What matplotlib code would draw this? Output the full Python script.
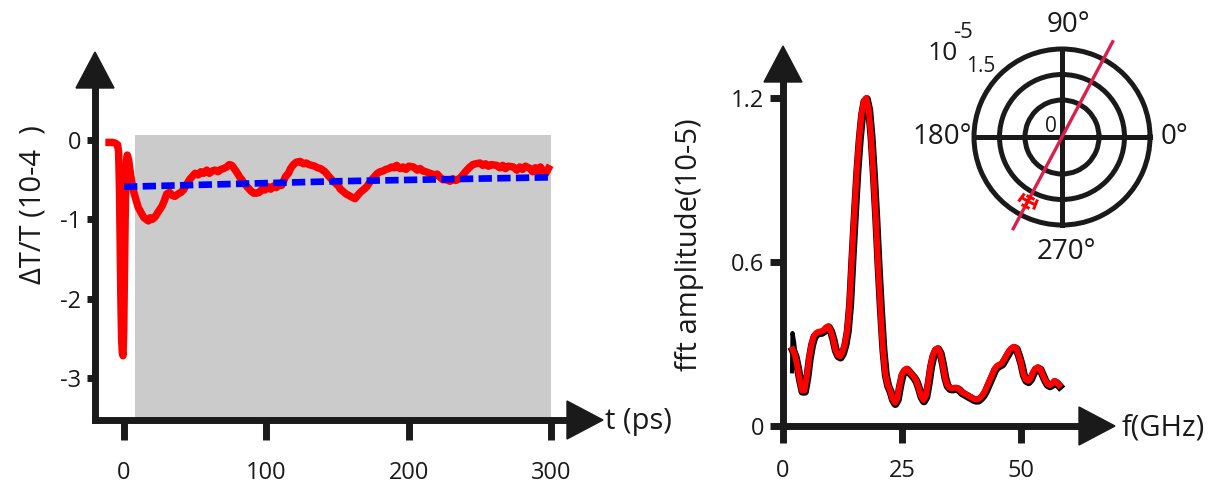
import numpy as np
import matplotlib
matplotlib.use("Agg")
import matplotlib.pyplot as plt
from matplotlib.patches import Polygon, Rectangle
from matplotlib import transforms

# ---------------- data ----------------
# pump-probe transient, time in ps, dT/T in units of 1e-4
TIME = [-10.5, -8, -6, -4.5, -3.8, -3.2, -2.7, -2.2, -1.7, -1.2, -0.7, -0.2, 0.3, 0.8, 1.3, 1.8, 2.3,
        3.2, 4.5, 6, 7.7, 10, 12.4, 14, 15.5, 17.1, 18.5, 20, 21.8, 23.5, 25, 26.5, 28, 30, 32, 34,
        35.8, 38, 40, 41.7, 44, 46, 48, 49.9, 52, 54, 56, 58.1, 60, 62, 64, 66, 68, 70, 72, 74, 75.7,
        77, 79, 81, 82.7, 85, 87, 89, 91, 93.2, 95, 97, 99, 101.4, 103, 105, 107, 108.8, 110.8, 112,
        113.5, 115.5, 117, 119, 121, 123.7, 126, 128, 130, 131.9, 134, 136, 138, 141.2, 143, 145, 147,
        150.6, 152, 154, 156, 158, 160, 162.3, 164, 166, 168, 170.5, 172, 174, 176, 178, 179.9, 182,
        184, 186, 188, 190, 191.6, 194, 196, 198, 200, 203.3, 206, 208, 210, 212, 215, 218, 220, 222,
        224, 226.7, 229, 231, 233, 236.1, 238, 240.8, 243, 245, 247, 250.1, 252, 254, 256, 258, 261.9,
        264, 266, 268, 270, 273.5, 276, 278, 280, 282, 285.3, 287, 289, 291, 292.5, 294.6, 296, 298.1]
DTT = [-0.03, -0.03, -0.04, -0.06, -0.15, -0.6, -1.3, -2.0, -2.5, -2.68, -2.72, -2.4, -1.7, -1.0, -0.5, -0.25, -0.19,
       -0.25, -0.42, -0.6, -0.71, -0.85, -0.93, -0.98, -1.0, -1.02, -0.98, -1.0, -0.97, -0.92, -0.88, -0.84, -0.78,
       -0.68, -0.66, -0.70, -0.71, -0.68, -0.66, -0.63, -0.56, -0.50, -0.46, -0.42, -0.44, -0.40, -0.42, -0.38,
       -0.42, -0.39, -0.38, -0.40, -0.37, -0.36, -0.34, -0.31, -0.32, -0.35, -0.40, -0.46, -0.50, -0.56, -0.60,
       -0.64, -0.67, -0.67, -0.66, -0.62, -0.63, -0.59, -0.62, -0.58, -0.60, -0.57, -0.57, -0.52, -0.46, -0.42,
       -0.36, -0.31, -0.28, -0.27, -0.30, -0.29, -0.31, -0.32, -0.33, -0.35, -0.36, -0.40, -0.44, -0.48, -0.52,
       -0.58, -0.62, -0.65, -0.68, -0.70, -0.72, -0.74, -0.70, -0.66, -0.63, -0.59, -0.55, -0.50, -0.46, -0.42,
       -0.40, -0.39, -0.37, -0.36, -0.34, -0.35, -0.32, -0.36, -0.34, -0.37, -0.33, -0.34, -0.38, -0.36, -0.39,
       -0.40, -0.42, -0.44, -0.43, -0.47, -0.50, -0.50, -0.52, -0.49, -0.51, -0.48, -0.44, -0.38, -0.34, -0.31,
       -0.30, -0.29, -0.32, -0.30, -0.33, -0.31, -0.32, -0.35, -0.32, -0.36, -0.33, -0.34, -0.38, -0.34, -0.37,
       -0.33, -0.36, -0.40, -0.35, -0.39, -0.34, -0.40, -0.43, -0.36]

# background fit (dashed)
FIT_T = [0, 150, 300]
FIT_V = [-0.59, -0.52, -0.47]

# shaded window used for the FFT (ps)
WINDOW_T = (7.7, 300)
WINDOW_TOP = 0.06

T_TICKS = [0, 100, 200, 300]
DTT_TICKS = [0, -1, -2, -3]

# FFT spectrum, frequency in GHz, amplitude in units of 1e-5
FREQ = np.arange(2.0, 58.01, 0.5)
FFT_AMP = [0.28, 0.26, 0.22, 0.17, 0.13, 0.13, 0.18, 0.25, 0.30, 0.33,
           0.34, 0.345, 0.345, 0.35, 0.36, 0.365, 0.35, 0.32, 0.28, 0.26,
           0.255, 0.27, 0.30, 0.35, 0.45, 0.62, 0.78, 0.93, 1.05, 1.14,
           1.19, 1.20, 1.16, 1.06, 0.92, 0.76, 0.58, 0.42, 0.28, 0.19,
           0.15, 0.13, 0.10, 0.085, 0.10, 0.15, 0.19, 0.205, 0.21, 0.20,
           0.19, 0.18, 0.165, 0.14, 0.11, 0.095, 0.11, 0.16, 0.22, 0.26,
           0.28, 0.285, 0.27, 0.23, 0.18, 0.15, 0.14, 0.138, 0.14, 0.14,
           0.135, 0.125, 0.12, 0.115, 0.11, 0.105, 0.10, 0.097, 0.098, 0.105,
           0.115, 0.13, 0.15, 0.17, 0.19, 0.21, 0.22, 0.225, 0.23, 0.245,
           0.26, 0.275, 0.285, 0.29, 0.285, 0.26, 0.23, 0.19, 0.17, 0.165,
           0.175, 0.195, 0.21, 0.215, 0.21, 0.19, 0.17, 0.155, 0.15, 0.155,
           0.165, 0.16, 0.15]
# start of the raw (black) spectrum, which sits above the smoothed one
RAW_HEAD_F = [1.9, 2.0, 2.3, 2.8]
RAW_HEAD_V = [0.20, 0.34, 0.31, 0.24]

F_TICKS = [0, 25, 50]
AMP_TICKS = [0, 0.6, 1.2]
AMP_LABELS = ["0", "0.6", "1.2"]

# polar inset: amplitude vs polarisation angle
AXIS_ANGLE_DEG = 62.0
POINT_ANGLE_DEG = 242.0
POINT_AMP = 1.2
POINT_AMP_ERR = 0.1
POINT_ANGLE_ERR_DEG = 6.0
RINGS = [0.5, 1.0]
R_MAX = 1.5
R_CENTER = -0.225

# ---------------- figure ----------------
W, H, DPI = 1211, 495, 100
plt.rcParams['font.family'] = ['Open Sans', 'DejaVu Sans']
INK = '#1a1a1a'
fig = plt.figure(figsize=(W / DPI, H / DPI), dpi=DPI)


def box(x0, y0, x1, y1):
    """pixel box with origin at the top-left -> figure fraction rect"""
    return [x0 / W, 1 - y1 / H, (x1 - x0) / W, (y1 - y0) / H]


def px(x, y):
    return x / W, 1 - y / H


def arrow_axes(ax, wpx, hpx, head_len=36, head_half=19, lw=5.0):
    for s in ax.spines.values():
        s.set_visible(False)
    yb = 1 - head_len / hpx
    xb = 1 - head_len / wpx
    ax.plot([0, 0], [0, yb], transform=ax.transAxes, color=INK, lw=lw,
            solid_capstyle='projecting', clip_on=False, zorder=5)
    ax.plot([0, xb], [0, 0], transform=ax.transAxes, color=INK, lw=lw,
            solid_capstyle='projecting', clip_on=False, zorder=5)
    hw = head_half / wpx
    hh = head_half / hpx
    ax.add_patch(Polygon([[-hw, yb], [hw, yb], [0, 1]], closed=True, transform=ax.transAxes,
                         color=INK, clip_on=False, zorder=5))
    ax.add_patch(Polygon([[xb, -hh], [xb, hh], [1, 0]], closed=True, transform=ax.transAxes,
                         color=INK, clip_on=False, zorder=5))
    ax.patch.set_visible(False)


# ---- left: transient ----
L = (95, 52, 603, 420)
ax1 = fig.add_axes(box(*L))
ax1.set_xlim(-20.38, 336.5)
ax1.set_ylim(-3.531, 1.110)
ax1.add_patch(Rectangle((WINDOW_T[0], -3.531), WINDOW_T[1] - WINDOW_T[0], WINDOW_TOP + 3.531,
                        facecolor='#cbcbcb', edgecolor='none', zorder=0))
ax1.plot(TIME, DTT, color='#ff0000', lw=5.4, solid_joinstyle='round', zorder=2)
ax1.plot(FIT_T, FIT_V, color='#0000ff', lw=4.8, dashes=(2.0, 0.8), solid_capstyle='butt',
         dash_capstyle='butt', zorder=3)
ax1.set_xticks(T_TICKS)
ax1.set_xticklabels([str(t) for t in T_TICKS])
ax1.set_yticks(DTT_TICKS)
ax1.set_yticklabels([str(v) for v in DTT_TICKS])
ax1.tick_params(axis='x', length=14.5, width=5, color=INK, labelsize=17, pad=15, labelcolor=INK)
ax1.tick_params(axis='y', length=6, width=5, color=INK, labelsize=17, pad=4, labelcolor=INK)
arrow_axes(ax1, L[2] - L[0], L[3] - L[1])
fig.text(*px(33, 205), "ΔT/T (10-4  )", rotation=90, ha='center', va='center', fontsize=21, color=INK)
fig.text(*px(605, 422), "t (ps)", ha='left', va='center', fontsize=21, color=INK)

# ---- right: FFT spectrum ----
R = (783, 46, 1115, 426)
ax2 = fig.add_axes(box(*R))
ax2.set_xlim(0, 69.75)
ax2.set_ylim(0, 1.390)
shadow = ax2.transData + transforms.ScaledTranslation(0.5 / DPI, -1.2 / DPI, fig.dpi_scale_trans)
ax2.plot(FREQ, FFT_AMP, color='black', lw=5.8, transform=shadow, zorder=2)
ax2.plot(RAW_HEAD_F, RAW_HEAD_V, color='black', lw=3.0, zorder=2)
ax2.plot(FREQ, FFT_AMP, color='#ff0000', lw=4.3, zorder=3)
ax2.set_xticks(F_TICKS)
ax2.set_xticklabels([str(f) for f in F_TICKS])
ax2.set_yticks(AMP_TICKS)
ax2.set_yticklabels(AMP_LABELS)
ax2.tick_params(axis='x', length=12, width=5, color=INK, labelsize=17, pad=12, labelcolor=INK)
ax2.tick_params(axis='y', length=9.5, width=5, color=INK, labelsize=17, pad=4, labelcolor=INK)
arrow_axes(ax2, R[2] - R[0], R[3] - R[1])
fig.text(*px(690, 245), "fft amplitude(10-5)", rotation=90, ha='center', va='center', fontsize=21, color=INK)
fig.text(*px(1122, 428), "f(GHz)", ha='left', va='center', fontsize=21, color=INK)

# ---- polar inset ----
C = (1062, 137)
RAD = 88
pax = fig.add_axes(box(C[0] - RAD, C[1] - RAD, C[0] + RAD, C[1] + RAD), projection='polar')
ring_lw = 3.6
pax.plot([0, np.pi], [R_MAX, R_MAX], color=INK, lw=ring_lw, clip_on=False, zorder=2)
pax.plot([np.pi / 2, 3 * np.pi / 2], [R_MAX, R_MAX], color=INK, lw=ring_lw, clip_on=False, zorder=2)
a = np.deg2rad(AXIS_ANGLE_DEG)
pax.plot([a, a + np.pi], [1.89, 1.81], color='#dc1e4b', lw=2.4, clip_on=False, zorder=4)
pax.errorbar([np.deg2rad(POINT_ANGLE_DEG)], [POINT_AMP], xerr=[np.deg2rad(POINT_ANGLE_ERR_DEG)],
             yerr=[POINT_AMP_ERR], fmt='none', ecolor='#ff0000', elinewidth=2.2, capsize=3.5,
             capthick=2.2, zorder=5)
pax.set_rlim(R_CENTER, R_MAX)
pax.set_rgrids(RINGS, labels=[])
pax.set_thetagrids([], labels=[])
pax.yaxis.grid(True, color=INK, lw=ring_lw)
pax.xaxis.grid(False)
pax.spines['polar'].set_color(INK)
pax.spines['polar'].set_linewidth(ring_lw)
pax.spines['inner'].set_visible(False)
pax.patch.set_visible(False)

for label, (x, y) in [("90°", (1068, 25)), ("0°", (1174, 137)),
                      ("180°", (942, 137)), ("270°", (1066, 252))]:
    fig.text(*px(x, y), label, ha='center', va='center', fontsize=20, color=INK)
fig.text(*px(1051, 126), "0", ha='center', va='center', fontsize=15, color=INK)
fig.text(*px(981, 66), "1.5", ha='center', va='center', fontsize=15, color=INK)
fig.text(*px(943, 54), "10", ha='center', va='center', fontsize=19, color=INK)
fig.text(*px(963, 33), "-5", ha='center', va='center', fontsize=16, color=INK)

fig.savefig("out.png", dpi=DPI)
